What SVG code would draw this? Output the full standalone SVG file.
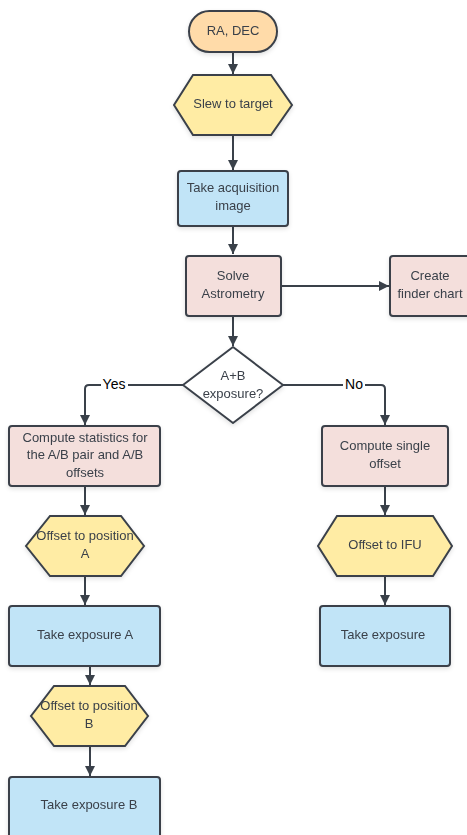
<svg xmlns="http://www.w3.org/2000/svg" width="467" height="835" viewBox="0 0 467 835">
<style>
.n{stroke:#3a414a;stroke-width:2}
.term{fill:#ffdba9}
.hex{fill:#ffeca4}
.blue{fill:#c1e4f7}
.pink{fill:#f4dfdc}
.dia{fill:#ffffff}
.t{font-family:"Liberation Sans",Arial,sans-serif;font-size:13px;fill:#3a414a;text-anchor:middle}
.lbl{font-family:"Liberation Sans",Arial,sans-serif;font-size:14px;fill:#000;text-anchor:middle}
.c{fill:none;stroke:#3a414a;stroke-width:2}
</style>
<defs>
<marker id="ah" viewBox="0 0 10 10" refX="10" refY="5" markerWidth="5" markerHeight="5" orient="auto" markerUnits="strokeWidth">
<path d="M0,0 L10,5 L0,10 z" fill="#3a414a"/>
</marker>
<filter id="sh" x="-10%" y="-10%" width="130%" height="140%">
<feDropShadow dx="0" dy="2" stdDeviation="2" flood-color="#000" flood-opacity="0.12"/>
</filter>
</defs>
<g id="connectors">
<path class="c" d="M233,52 V74" marker-end="url(#ah)"/>
<path class="c" d="M233,135 V170" marker-end="url(#ah)"/>
<path class="c" d="M233,226 V254" marker-end="url(#ah)"/>
<path class="c" d="M281,286 H389" marker-end="url(#ah)"/>
<path class="c" d="M233,316 V346" marker-end="url(#ah)"/>
<path class="c" d="M183,385 H89 Q85,385 85,389 V425" marker-end="url(#ah)"/>
<path class="c" d="M283,385 H381 Q385,385 385,389 V425" marker-end="url(#ah)"/>
<path class="c" d="M85,486 V515" marker-end="url(#ah)"/>
<path class="c" d="M85,576 V605" marker-end="url(#ah)"/>
<path class="c" d="M90,666 V685" marker-end="url(#ah)"/>
<path class="c" d="M90,747 V776" marker-end="url(#ah)"/>
<path class="c" d="M385,486 V515" marker-end="url(#ah)"/>
<path class="c" d="M385,576 V605" marker-end="url(#ah)"/>
<rect x="101" y="376" width="27" height="17" fill="#fff"/>
<text class="lbl" x="114" y="389">Yes</text>
<rect x="343" y="376" width="22" height="17" fill="#fff"/>
<text class="lbl" x="354" y="389">No</text>
</g>
<g id="ra-dec" filter="url(#sh)">
<rect class="n term" x="189" y="11" width="88" height="41" rx="20.5"/>
<text class="t" x="233" y="35">RA, DEC</text>
</g>
<g id="slew" filter="url(#sh)">
<polygon class="n hex" points="193,75 271,75 292,105 271,135 193,135 174,105"/>
<text class="t" x="233" y="108">Slew to target</text>
</g>
<g id="acq" filter="url(#sh)">
<rect class="n blue" x="178" y="171" width="110" height="55" rx="3"/>
<text class="t" x="233" y="192">Take acquisition</text>
<text class="t" x="233" y="210">image</text>
</g>
<g id="solve" filter="url(#sh)">
<rect class="n pink" x="186" y="256" width="95" height="60" rx="3"/>
<text class="t" x="233" y="280">Solve</text>
<text class="t" x="233" y="298">Astrometry</text>
</g>
<g id="finder" filter="url(#sh)">
<rect class="n pink" x="390" y="256" width="82" height="60" rx="3"/>
<text class="t" x="430" y="280">Create</text>
<text class="t" x="430" y="298">finder chart</text>
</g>
<g id="decision" filter="url(#sh)">
<polygon class="n dia" points="233,347 283,385 233,423 183,385" stroke-linejoin="round"/>
<text class="t" x="233" y="380">A+B</text>
<text class="t" x="233" y="398">exposure?</text>
</g>
<g id="stats" filter="url(#sh)">
<rect class="n pink" x="9" y="426" width="151" height="60" rx="3"/>
<text class="t" x="85" y="442">Compute statistics for</text>
<text class="t" x="85" y="459">the A/B pair and A/B</text>
<text class="t" x="85" y="477">offsets</text>
</g>
<g id="single" filter="url(#sh)">
<rect class="n pink" x="322" y="426" width="126" height="60" rx="3"/>
<text class="t" x="385" y="450">Compute single</text>
<text class="t" x="385" y="468">offset</text>
</g>
<g id="offA" filter="url(#sh)">
<polygon class="n hex" points="50,516 121,516 144,546 121,576 50,576 26,546"/>
<text class="t" x="85" y="540">Offset to position</text>
<text class="t" x="85" y="558">A</text>
</g>
<g id="expA" filter="url(#sh)">
<rect class="n blue" x="9" y="606" width="151" height="60" rx="3"/>
<text class="t" x="85" y="639">Take exposure A</text>
</g>
<g id="offB" filter="url(#sh)">
<polygon class="n hex" points="54,686 125,686 148,716 125,746 54,746 31,716"/>
<text class="t" x="89" y="710">Offset to position</text>
<text class="t" x="89" y="728">B</text>
</g>
<g id="expB" filter="url(#sh)">
<rect class="n blue" x="9" y="777" width="151" height="70" rx="3"/>
<text class="t" x="89" y="809">Take exposure B</text>
</g>
<g id="offIFU" filter="url(#sh)">
<polygon class="n hex" points="337,516 433,516 452,546 433,576 337,576 318,546"/>
<text class="t" x="385" y="549">Offset to IFU</text>
</g>
<g id="exp" filter="url(#sh)">
<rect class="n blue" x="320" y="606" width="130" height="60" rx="3"/>
<text class="t" x="383" y="639">Take exposure</text>
</g>
</svg>
